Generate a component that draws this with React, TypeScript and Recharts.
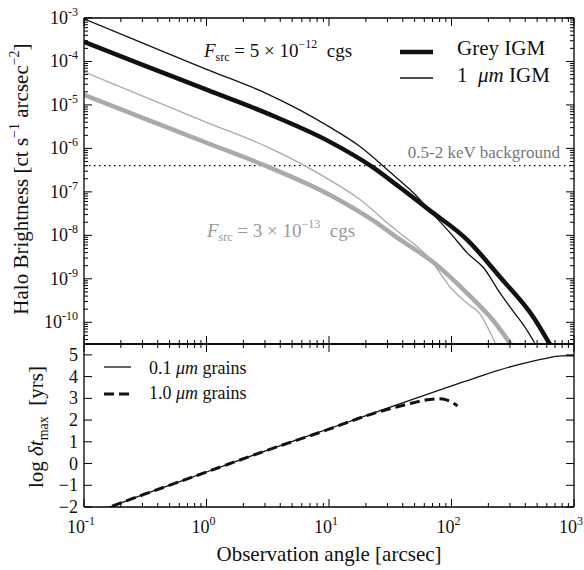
import React from 'react';
import { LineChart, Line, XAxis, YAxis, ReferenceLine } from 'recharts';

const FONT = '"Liberation Serif", "DejaVu Serif", serif';
const INK = '#111';
const GREY = '#aaaaaa';

// observation angle [arcsec] -> halo brightness [ct s^-1 arcsec^-2], F_src = 5e-12 cgs
const greyBrightX = [0.1, 0.316, 1, 3.16, 10, 22.4, 38, 66, 135, 251, 468, 631, 700];
const greyBrightY = [2.82e-4, 7.94e-5, 2.24e-5, 6.31e-6, 1.45e-6, 3.8e-7, 1.26e-7, 3.8e-8, 7.76e-9, 1.07e-9, 1.29e-10, 3.24e-11, 2.0e-11];

const umBrightX = [0.1, 0.316, 1, 3.16, 5.8, 10, 17.8, 31.6, 50, 66, 98, 135, 182, 251, 316, 380, 479, 520];
const umBrightY = [9.55e-4, 2.51e-4, 6.61e-5, 1.78e-5, 7.59e-6, 3.16e-6, 1.12e-6, 2.82e-7, 8.91e-8, 3.8e-8, 1.12e-8, 3.89e-9, 1.82e-9, 4.57e-10, 1.86e-10, 9.33e-11, 3.24e-11, 2.0e-11];

// F_src = 3e-13 cgs
const greyFaintX = [0.1, 0.316, 1, 3.16, 10, 22.4, 38, 71, 135, 219, 302, 340];
const greyFaintY = [1.7e-5, 4.79e-6, 1.35e-6, 3.8e-7, 8.71e-8, 2.29e-8, 7.94e-9, 2.4e-9, 4.57e-10, 1.1e-10, 3.24e-11, 2.0e-11];

const umFaintX = [0.1, 0.316, 1, 3.16, 5.8, 10, 17.8, 31.6, 38, 66, 98, 135, 170, 229, 250];
const umFaintY = [5.75e-5, 1.51e-5, 3.98e-6, 1.07e-6, 4.57e-7, 1.91e-7, 6.76e-8, 1.7e-8, 1.12e-8, 2.95e-9, 6.31e-10, 2.69e-10, 1.58e-10, 3.24e-11, 2.0e-11];

const BACKGROUND = 4e-7;

// log delta t_max [yrs]
const grains01X = [0.1, 0.162, 0.316, 1, 3.16, 10, 31.6, 100, 178, 316, 562, 794, 1000];
const grains01Y = [-2.43, -2.0, -1.4, -0.39, 0.62, 1.6, 2.6, 3.57, 4.05, 4.48, 4.82, 4.95, 4.96];

const grains10X = [0.1, 0.162, 0.316, 1, 3.16, 10, 19, 26.3, 35.5, 49, 66, 79.4, 91, 102, 112];
const grains10Y = [-2.43, -2.0, -1.4, -0.39, 0.62, 1.58, 2.15, 2.4, 2.6, 2.8, 2.95, 2.98, 2.93, 2.8, 2.65];

const X_DECADES = [0.1, 1, 10, 100, 1000];
const Y_DECADES = [1e-11, 1e-10, 1e-9, 1e-8, 1e-7, 1e-6, 1e-5, 1e-4, 1e-3];
const DT_TICKS = [-2, -1, 0, 1, 2, 3, 4, 5];

const X_DOMAIN = [0.1, 1000];
const Y_DOMAIN = [3.1623e-11, 1e-3];
const DT_DOMAIN = [-2, 5.5];

const logTicks = (decades: number[], lo: number, hi: number) => {
  const out: number[] = [];
  decades.forEach((d) => {
    for (let k = 1; k <= 9; k++) {
      const v = d * k;
      if (v >= lo * 0.9999 && v <= hi * 1.0001) out.push(v);
    }
  });
  return out;
};

const X_TICKS = logTicks(X_DECADES, X_DOMAIN[0], X_DOMAIN[1]);
const Y_TICKS = logTicks(Y_DECADES, Y_DOMAIN[0], Y_DOMAIN[1]);

const toPoints = (xs: number[], ys: number[]) => xs.map((x, i) => ({ x, y: ys[i] }));

const isMajor = (v: number) => Math.abs(Math.log10(v) - Math.round(Math.log10(v))) < 1e-6;
const expOf = (v: number) => Math.round(Math.log10(v));

const MAJ = 8;
const MIN = 4;

const BottomTick = (props: any) => {
  const { x, y, payload, showLabel } = props;
  const major = isMajor(payload.value);
  return (
    <g>
      <path d={`M${x},${y}V${y - (major ? MAJ : MIN)}`} stroke="#000" strokeWidth={1} fill="none" />
      {showLabel && major && (
        <text x={x - 3} y={y + 26} textAnchor="middle" fontFamily={FONT} fontSize={18} fill={INK}>
          10<tspan dy={-8} fontSize={12}>{expOf(payload.value)}</tspan>
        </text>
      )}
    </g>
  );
};

const TopTick = (props: any) => {
  const { x, y, payload } = props;
  const major = isMajor(payload.value);
  return <path d={`M${x},${y}V${y + (major ? MAJ : MIN)}`} stroke="#000" strokeWidth={1} fill="none" />;
};

const LeftLogTick = (props: any) => {
  const { x, y, payload } = props;
  const major = isMajor(payload.value);
  return (
    <g>
      <path d={`M${x},${y}H${x + (major ? MAJ : MIN)}`} stroke="#000" strokeWidth={1} fill="none" />
      {major && (
        <text x={x - 6} y={y + 6} textAnchor="end" fontFamily={FONT} fontSize={18} fill={INK}>
          10<tspan dy={-8} fontSize={12}>{expOf(payload.value)}</tspan>
        </text>
      )}
    </g>
  );
};

const RightLogTick = (props: any) => {
  const { x, y, payload } = props;
  const major = isMajor(payload.value);
  return <path d={`M${x},${y}H${x - (major ? MAJ : MIN)}`} stroke="#000" strokeWidth={1} fill="none" />;
};

const LeftLinTick = (props: any) => {
  const { x, y, payload } = props;
  const label = payload.value < 0 ? `\u2212${Math.abs(payload.value)}` : `${payload.value}`;
  return (
    <g>
      <path d={`M${x},${y}H${x + MAJ}`} stroke="#000" strokeWidth={1} fill="none" />
      <text x={x - 6} y={y + 6} textAnchor="end" fontFamily={FONT} fontSize={18} fill={INK}>
        {label}
      </text>
    </g>
  );
};

const RightLinTick = (props: any) => {
  const { x, y } = props;
  return <path d={`M${x},${y}H${x - MAJ}`} stroke="#000" strokeWidth={1} fill="none" />;
};

const frame = { stroke: '#000', strokeWidth: 1.3 };

export default function App() {
  return (
    <div style={{ position: 'absolute', left: 0, top: 0, width: 584, height: 570, background: '#fff' }}>
      <div style={{ position: 'absolute', left: 0, top: 0 }}>
        <LineChart width={584} height={345} margin={{ top: 17, right: 9, bottom: 0, left: 0 }}>
          <XAxis xAxisId="b" dataKey="x" type="number" scale="log" domain={X_DOMAIN} allowDataOverflow
            ticks={X_TICKS} interval={0} tickSize={0} tickMargin={0} height={1} axisLine={frame} tickLine={false}
            tick={(p: any) => <BottomTick {...p} showLabel={false} />} />
          <XAxis xAxisId="t" orientation="top" dataKey="x" type="number" scale="log" domain={X_DOMAIN} allowDataOverflow
            ticks={X_TICKS} interval={0} tickSize={0} tickMargin={0} height={1} axisLine={frame} tickLine={false}
            tick={(p: any) => <TopTick {...p} />} />
          <YAxis yAxisId="l" type="number" scale="log" domain={Y_DOMAIN} allowDataOverflow
            ticks={Y_TICKS} interval={0} tickSize={0} tickMargin={0} width={84} axisLine={frame} tickLine={false}
            tick={(p: any) => <LeftLogTick {...p} />} />
          <YAxis yAxisId="r" orientation="right" type="number" scale="log" domain={Y_DOMAIN} allowDataOverflow
            ticks={Y_TICKS} interval={0} tickSize={0} tickMargin={0} width={1} axisLine={frame} tickLine={false}
            tick={(p: any) => <RightLogTick {...p} />} />
          <ReferenceLine xAxisId="b" yAxisId="l" y={BACKGROUND} stroke="#000" strokeWidth={1.3} strokeDasharray="1.5 3.5" />
          <Line xAxisId="b" yAxisId="l" data={toPoints(greyFaintX, greyFaintY)} dataKey="y" type="monotone"
            stroke={GREY} strokeWidth={4.5} dot={false} isAnimationActive={false} />
          <Line xAxisId="b" yAxisId="l" data={toPoints(umFaintX, umFaintY)} dataKey="y" type="monotone"
            stroke={GREY} strokeWidth={1.3} dot={false} isAnimationActive={false} />
          <Line xAxisId="b" yAxisId="l" data={toPoints(greyBrightX, greyBrightY)} dataKey="y" type="monotone"
            stroke={INK} strokeWidth={4.5} dot={false} isAnimationActive={false} />
          <Line xAxisId="b" yAxisId="l" data={toPoints(umBrightX, umBrightY)} dataKey="y" type="monotone"
            stroke={INK} strokeWidth={1.3} dot={false} isAnimationActive={false} />
        </LineChart>
      </div>
      <div style={{ position: 'absolute', left: 0, top: 343 }}>
        <LineChart width={584} height={226} margin={{ top: 0, right: 9, bottom: 61, left: 0 }}>
          <XAxis xAxisId="b" dataKey="x" type="number" scale="log" domain={X_DOMAIN} allowDataOverflow
            ticks={X_TICKS} interval={0} tickSize={0} tickMargin={0} height={1} axisLine={frame} tickLine={false}
            tick={(p: any) => <BottomTick {...p} showLabel />} />
          <XAxis xAxisId="t" orientation="top" dataKey="x" type="number" scale="log" domain={X_DOMAIN} allowDataOverflow
            ticks={X_TICKS} interval={0} tickSize={0} tickMargin={0} height={1} axisLine={frame} tickLine={false}
            tick={(p: any) => <TopTick {...p} />} />
          <YAxis yAxisId="l" type="number" domain={DT_DOMAIN} allowDataOverflow
            ticks={DT_TICKS} interval={0} tickSize={0} tickMargin={0} width={84} axisLine={frame} tickLine={false}
            tick={(p: any) => <LeftLinTick {...p} />} />
          <YAxis yAxisId="r" orientation="right" type="number" domain={DT_DOMAIN} allowDataOverflow
            ticks={DT_TICKS} interval={0} tickSize={0} tickMargin={0} width={1} axisLine={frame} tickLine={false}
            tick={(p: any) => <RightLinTick {...p} />} />
          <Line xAxisId="b" yAxisId="l" data={toPoints(grains01X, grains01Y)} dataKey="y" type="monotone"
            stroke={INK} strokeWidth={1.3} dot={false} isAnimationActive={false} />
          <Line xAxisId="b" yAxisId="l" data={toPoints(grains10X, grains10Y)} dataKey="y" type="monotone"
            stroke={INK} strokeWidth={3} strokeDasharray="10 5" dot={false} isAnimationActive={false} />
        </LineChart>
      </div>

      {/* axis titles, annotations and legends */}
      <svg width={584} height={570} style={{ position: 'absolute', left: 0, top: 0, pointerEvents: 'none' }}
        fontFamily={FONT} fill={INK}>
        <text x={28} y={179} transform="rotate(-90 28 179)" textAnchor="middle" fontSize={21}>
          Halo Brightness [ct s<tspan dy={-9} fontSize={14}>{'\u22121'}</tspan>
          <tspan dy={9}> arcsec</tspan><tspan dy={-9} fontSize={14}>{'\u22122'}</tspan><tspan dy={9}>]</tspan>
        </text>
        <text x={43} y={427} transform="rotate(-90 43 427)" textAnchor="middle" fontSize={21}>
          log <tspan fontStyle="italic">δt</tspan><tspan dy={5} fontSize={14}>max</tspan>
          <tspan dy={-5}>{'\u00a0\u00a0'}[yrs]</tspan>
        </text>
        <text x={329} y={561} textAnchor="middle" fontSize={21}>Observation angle [arcsec]</text>

        <text x={204} y={57} fontSize={19}>
          <tspan fontStyle="italic">F</tspan><tspan dy={4} fontSize={12}>src</tspan>
          <tspan dy={-4}> = 5 × 10</tspan><tspan dy={-9} fontSize={12}>{'\u221212'}</tspan>
          <tspan dy={9}>{'\u00a0\u00a0'}cgs</tspan>
        </text>
        <text x={207} y={237} fontSize={19} fill="#999">
          <tspan fontStyle="italic">F</tspan><tspan dy={4} fontSize={12}>src</tspan>
          <tspan dy={-4}> = 3 × 10</tspan><tspan dy={-9} fontSize={12}>{'\u221213'}</tspan>
          <tspan dy={9}>{'\u00a0\u00a0'}cgs</tspan>
        </text>
        <text x={560} y={158} textAnchor="end" fontSize={17} fill="#777">0.5-2 keV background</text>

        <line x1={400} x2={433} y1={52} y2={52} stroke={INK} strokeWidth={4.5} />
        <text x={457} y={55} fontSize={21}>Grey IGM</text>
        <line x1={400} x2={433} y1={78} y2={78} stroke={INK} strokeWidth={1.3} />
        <text x={457} y={82} fontSize={21}>1{'\u00a0\u00a0'}<tspan fontStyle="italic">μm</tspan> IGM</text>

        <line x1={104} x2={131} y1={367} y2={367} stroke={INK} strokeWidth={1.3} />
        <text x={149} y={374} fontSize={18}>0.1 <tspan fontStyle="italic">μm</tspan> grains</text>
        <line x1={104} x2={131} y1={394} y2={394} stroke={INK} strokeWidth={3} strokeDasharray="10 5" />
        <text x={149} y={399} fontSize={18}>1.0 <tspan fontStyle="italic">μm</tspan> grains</text>
      </svg>
    </div>
  );
}
